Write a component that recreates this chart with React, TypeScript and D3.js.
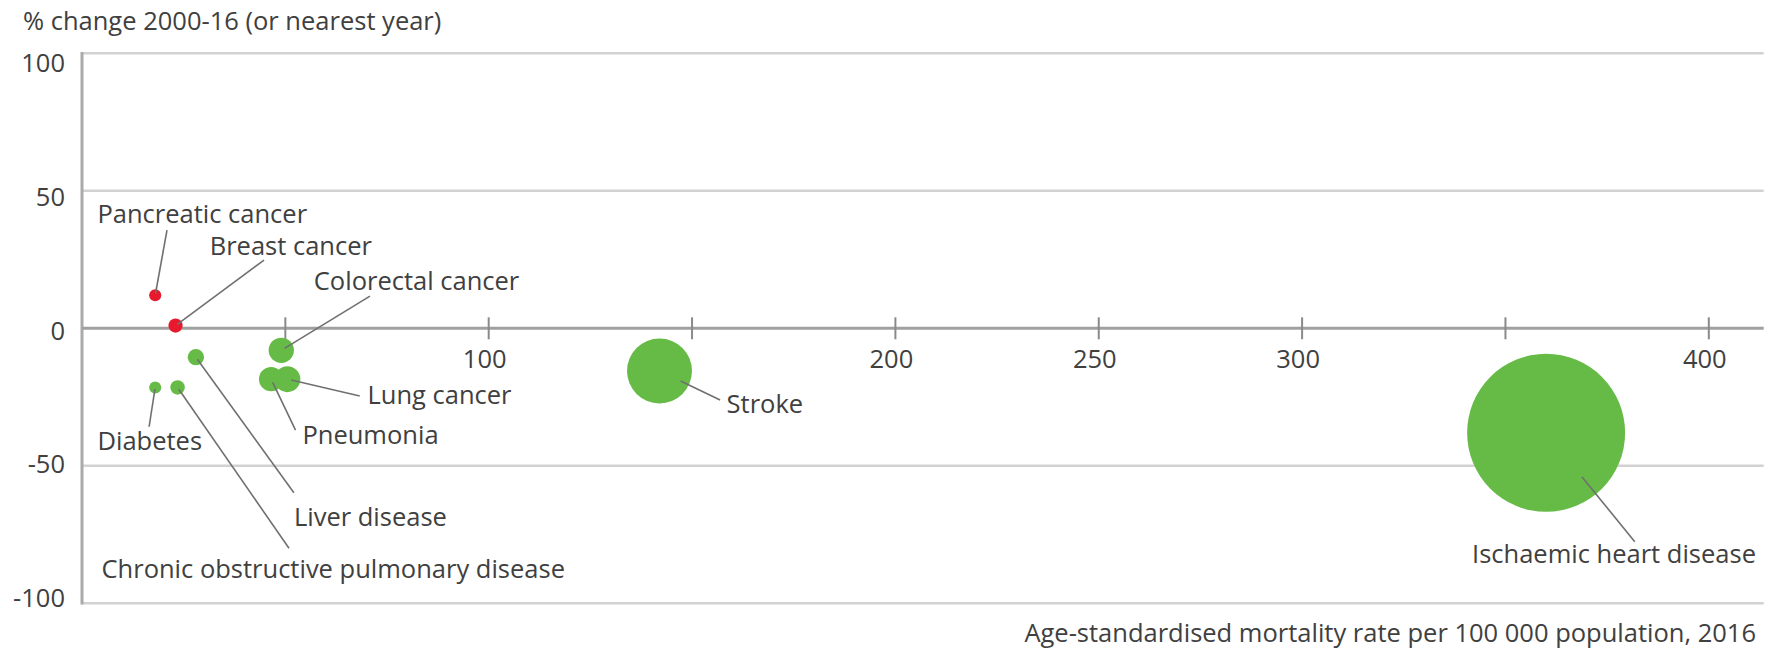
import React from "react";
import * as d3 from "d3";

// ---- Data ----
const causes = [
  "Pancreatic cancer",
  "Breast cancer",
  "Colorectal cancer",
  "Lung cancer",
  "Pneumonia",
  "Diabetes",
  "Liver disease",
  "Chronic obstructive pulmonary disease",
  "Stroke",
  "Ischaemic heart disease",
];
// Age-standardised mortality rate per 100 000, 2016
const mortalityRate = [18, 23, 49, 50.5, 46.5, 18, 28, 23.5, 142, 360];
// % change 2000-16
const pctChange = [12, 1, -8, -18.5, -18.5, -21.5, -10.5, -21.5, -15.5, -38];
// red = increase, green = decrease
const direction = ["up", "up", "down", "down", "down", "down", "down", "down", "down", "down"];

// Label anchor positions expressed in data units
const labelX = [3.8, 31.4, 57.0, 70.2, 54.2, 3.8, 52.1, 4.8, 158.5, 411.6];
const labelY = [38.3, 26.7, 13.9, -27.5, -42.2, -44.3, -71.9, -90.7, -30.9, -85.5];
const labelAnchor = ["start", "start", "start", "start", "start", "start", "start", "start", "start", "end"];
const leaderX = [20.9, 44.75, 70.8, 68.3, 52.5, 16.5, 52.1, 50.9, 156.9, 381.8];
const leaderY = [35.7, 24.8, 11.7, -24.6, -37.0, -35.8, -59.8, -80.0, -26.1, -77.6];

const yTicks = [100, 50, 0, -50, -100];
const xTicks = [50, 100, 150, 200, 250, 300, 350, 400];
const xTickLabels = [100, 200, 250, 300, 400];

const yTitle = "% change 2000-16 (or nearest year)";
const xTitle = "Age-standardised mortality rate per 100 000 population, 2016";

// ---- Layout ----
const W = 1777;
const H = 652;
const FONT = "'Open Sans', sans-serif";
const FS = 25.5;
const TEXT = "#404040";
const GREEN = "#66bb47";
const RED = "#e8192c";

export default function App() {
  const x = d3.scaleLinear().domain([0, 400]).range([82, 1708.8]);
  const y = d3.scaleLinear().domain([-100, 100]).range([603.3, 53.3]);
  const yLab = d3.scaleLinear().domain([-100, 100]).range([607, 72]);
  const r = d3.scaleLinear().domain([0, 360]).range([2.2, 79]);
  const xEnd = x(413.5);

  const items = causes.map((c, i) => ({
    name: c,
    cx: x(mortalityRate[i]),
    cy: y(pctChange[i]),
    rr: r(mortalityRate[i]),
    color: direction[i] === "up" ? RED : GREEN,
    lx: x(labelX[i]),
    ly: y(labelY[i]),
    anchor: labelAnchor[i],
    sx: x(leaderX[i]),
    sy: y(leaderY[i]),
  }));

  // draw smaller bubbles on top
  const order = [...items].sort((a, b) => b.rr - a.rr);

  return (
    <svg
      width={W}
      height={H}
      style={{ position: "absolute", left: 0, top: 0, background: "#fff" }}
      fontFamily={FONT}
    >
      {/* title */}
      <text x={23} y={30} fontSize={FS} fill={TEXT}>
        {yTitle}
      </text>

      {/* gridlines */}
      {yTicks
        .filter((t) => t !== 0)
        .map((t) => (
          <line
            key={"g" + t}
            x1={x(0)}
            x2={xEnd}
            y1={y(t)}
            y2={y(t)}
            stroke="#d2d2d2"
            strokeWidth={2.5}
          />
        ))}

      {/* y-axis */}
      <line x1={x(0)} x2={x(0)} y1={y(100) - 1.2} y2={y(-100) + 1.2} stroke="#aaaaaa" strokeWidth={3} />

      {/* y tick labels */}
      {yTicks.map((t) => (
        <text key={"yl" + t} x={65} y={yLab(t)} fontSize={FS} fill={TEXT} textAnchor="end">
          {t}
        </text>
      ))}

      {/* zero line */}
      <line x1={x(0)} x2={xEnd} y1={y(0)} y2={y(0)} stroke="#a0a0a0" strokeWidth={3} />
      {xTicks.map((t) => (
        <line
          key={"xt" + t}
          x1={x(t)}
          x2={x(t)}
          y1={y(0) - 11}
          y2={y(0) + 11}
          stroke="#8a8a8a"
          strokeWidth={2}
        />
      ))}
      {xTickLabels.map((t) => (
        <text key={"xl" + t} x={x(t) - 4} y={368} fontSize={FS} fill={TEXT} textAnchor="middle">
          {t}
        </text>
      ))}

      {/* bubbles */}
      {order.map((d) => (
        <circle key={"c" + d.name} cx={d.cx} cy={d.cy} r={d.rr} fill={d.color} />
      ))}

      {/* leader lines */}
      {items.map((d) => {
        const dx = d.sx - d.cx;
        const dy = d.sy - d.cy;
        const len = Math.sqrt(dx * dx + dy * dy) || 1;
        const k = d.rr > 20 ? 0.72 : 0.3;
        const ex = d.cx + (dx / len) * d.rr * k;
        const ey = d.cy + (dy / len) * d.rr * k;
        return (
          <line
            key={"ld" + d.name}
            x1={d.sx}
            y1={d.sy}
            x2={ex}
            y2={ey}
            stroke="#707070"
            strokeWidth={1.6}
          />
        );
      })}

      {/* labels */}
      {items.map((d) => (
        <text
          key={"t" + d.name}
          x={d.lx}
          y={d.ly}
          fontSize={FS}
          fill={TEXT}
          textAnchor={d.anchor}
        >
          {d.name}
        </text>
      ))}

      {/* x title */}
      <text x={1756} y={642} fontSize={FS} fill={TEXT} textAnchor="end">
        {xTitle}
      </text>
    </svg>
  );
}
